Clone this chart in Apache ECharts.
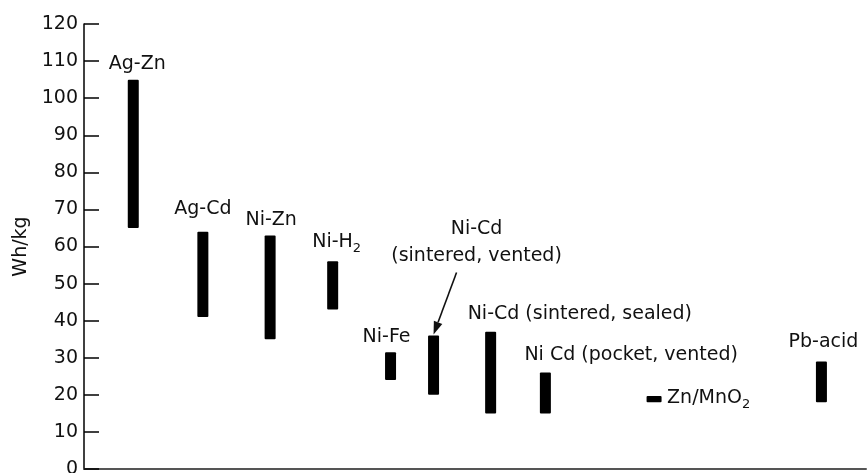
<!DOCTYPE html>
<html>
<head>
<meta charset="utf-8">
<script src="https://cdn.jsdelivr.net/npm/echarts@6/dist/echarts.min.js"></script>
<style>
  html, body { margin: 0; padding: 0; background: #fff; }
  #chart { width: 867px; height: 473px; }
</style>
</head>
<body>
<div id="chart"></div>
<script>
// battery systems, energy density range in Wh/kg
const batteries = ['Ag-Zn', 'Ag-Cd', 'Ni-Zn', 'Ni-H2', 'Ni-Fe', 'Ni-Cd (sintered, vented)',
  'Ni-Cd (sintered, sealed)', 'Ni Cd (pocket, vented)', 'Zn/MnO2', 'Pb-acid'];
const xPos = [6.3, 15.2, 23.8, 31.8, 39.2, 44.7, 52.0, 59.0, 72.9, 94.3];
const lowWh = [65, 41, 35, 43, 24, 20, 15, 15, 18, 18];
const highWh = [105, 64, 63, 56, 31.5, 36, 37, 26, 19.7, 29];
const yTicks = [0, 10, 20, 30, 40, 50, 60, 70, 80, 90, 100, 110, 120];

const FONT = 'DejaVu Sans';
const INK = '#111';

// label text (rich) and placement relative to the top of each bar
const labelText = [
  'Ag-Zn', 'Ag-Cd', 'Ni-Zn', '{m|Ni-H}{s|2}', 'Ni-Fe',
  'Ni-Cd\n(sintered, vented)', 'Ni-Cd (sintered, sealed)', 'Ni Cd (pocket, vented)',
  '{m|Zn/MnO}{s|2}', 'Pb-acid'
];
const labelPlace = [
  { dx: 4, dy: -16, align: 'center' },
  { dx: 0, dy: -23, align: 'center' },
  { dx: 1, dy: -15, align: 'center' },
  { dx: 4, dy: -19, align: 'center' },
  { dx: -4, dy: -15, align: 'center' },
  { dx: 43, dy: -93, align: 'center' },
  { dx: -23, dy: -18, align: 'left' },
  { dx: -21, dy: -18, align: 'left' },
  { dx: 13, dy: 2, align: 'left' },
  { dx: 2, dy: -19, align: 'center' }
];
const barWidth = [11, 11, 11, 11, 11, 11, 11, 11, 15, 11];

const chart = echarts.init(document.getElementById('chart'));

function renderBar(params, api) {
  const i = params.dataIndex;
  const top = api.coord([api.value(0), api.value(2)]);
  const bot = api.coord([api.value(0), api.value(1)]);
  const w = barWidth[i];
  const p = labelPlace[i];
  const children = [
    {
      type: 'rect',
      shape: { x: top[0] - w / 2, y: top[1], width: w, height: bot[1] - top[1], r: 1 },
      style: { fill: '#000' }
    },
    {
      type: 'text',
      x: top[0] + p.dx,
      y: top[1] + p.dy,
      style: {
        text: labelText[i],
        fill: INK,
        fontFamily: FONT,
        fontSize: 19,
        align: p.align,
        verticalAlign: 'middle',
        lineHeight: 27,
        rich: {
          m: { fontFamily: FONT, fontSize: 19, lineHeight: 26, verticalAlign: 'middle', fill: INK },
          s: { fontFamily: FONT, fontSize: 13, lineHeight: 13, verticalAlign: 'bottom', fill: INK }
        }
      }
    }
  ];
  // arrow pointing at the sintered/vented Ni-Cd bar
  if (i === 5) {
    const x0 = top[0] + 23, y0 = top[1] - 63;
    const x1 = top[0], y1 = top[1] - 1;
    const ang = Math.atan2(y1 - y0, x1 - x0);
    const len = 13, half = 4.5;
    const bx = x1 - len * Math.cos(ang), by = y1 - len * Math.sin(ang);
    children.push({
      type: 'line',
      shape: { x1: x0, y1: y0, x2: bx, y2: by },
      style: { stroke: INK, lineWidth: 1.6 }
    });
    children.push({
      type: 'polygon',
      shape: {
        points: [
          [x1, y1],
          [bx + half * Math.sin(ang), by - half * Math.cos(ang)],
          [bx - half * Math.sin(ang), by + half * Math.cos(ang)]
        ]
      },
      style: { fill: INK }
    });
  }
  return { type: 'group', children: children };
}

const option = {
  backgroundColor: '#fff',
  animation: false,
  grid: { left: 84, right: 1, top: 24, bottom: 4, containLabel: false, outerBoundsMode: 'none' },
  xAxis: {
    type: 'value',
    min: 0,
    max: 100,
    axisLine: { show: true, lineStyle: { color: '#555', width: 2 } },
    axisTick: { show: false },
    axisLabel: { show: false },
    splitLine: { show: false }
  },
  yAxis: {
    type: 'value',
    min: yTicks[0],
    max: yTicks[yTicks.length - 1],
    interval: 10,
    name: 'Wh/kg',
    nameLocation: 'middle',
    nameGap: 52,
    nameTextStyle: { fontFamily: FONT, fontSize: 19, color: INK },
    axisLine: { show: true, lineStyle: { color: '#000', width: 1.5 } },
    axisTick: { show: true, inside: true, length: 15, lineStyle: { color: '#000', width: 1.5 } },
    axisLabel: { fontFamily: FONT, fontSize: 19, color: INK, margin: 6 },
    splitLine: { show: false }
  },
  series: [{
    type: 'custom',
    name: 'Wh/kg',
    clip: false,
    renderItem: renderBar,
    data: batteries.map((b, i) => ({ name: b, value: [xPos[i], lowWh[i], highWh[i]] }))
  }]
};

chart.setOption(option);
</script>
</body>
</html>
